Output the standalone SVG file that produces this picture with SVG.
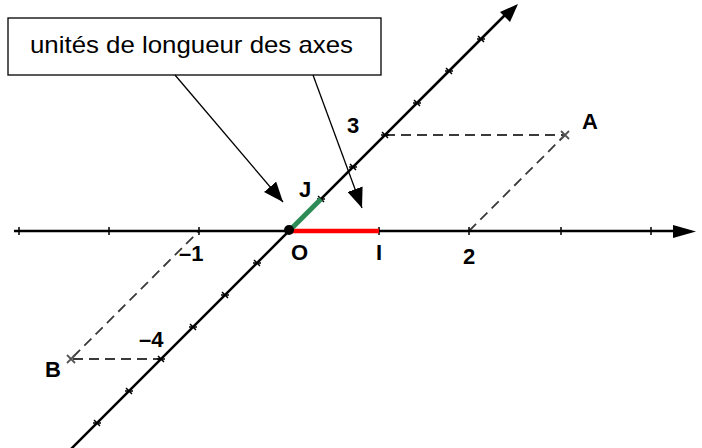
<svg xmlns="http://www.w3.org/2000/svg" width="702" height="448" viewBox="0 0 702 448">
<style>
.lbl{font-family:"Liberation Sans",Arial,sans-serif;font-weight:bold;font-size:22px;fill:#000}
.box{font-family:"Liberation Sans",Arial,sans-serif;font-size:24px;fill:#000}
.axis{stroke:#000;stroke-width:2.5;fill:none}
.tick{stroke:#000;stroke-width:1.5;fill:none}
.dash{stroke:#3a3a3a;stroke-width:1.8;stroke-dasharray:10,6;fill:none}
.cross{stroke:#555;stroke-width:1.8;fill:none}
.call{stroke:#000;stroke-width:1.3;fill:none}
</style>
<defs>
<marker id="callarr" viewBox="0 0 10 10" refX="10" refY="5" markerWidth="20" markerHeight="16" markerUnits="userSpaceOnUse" orient="auto" preserveAspectRatio="none">
<path d="M0,0 L10,5 L0,10 Z" fill="#000"/>
</marker>
</defs>

<g id="dashed">
<path class="dash" d="M385,135 H565"/>
<path class="dash" d="M469,231 L565,135"/>
<path class="dash" d="M73,359 H161"/>
<path class="dash" d="M73,357 L199,231"/>
</g>

<g id="axes">
<line class="axis" x1="14" y1="231" x2="676" y2="231"/>
<path d="M673,225 L696,231.5 L673,238 Z" fill="#000"/>
<line class="axis" x1="62" y1="458" x2="505" y2="15"/>
<path d="M500,12 L518,4 L510,22 Z" fill="#000"/>
<g id="xticks">
<path class="tick" d="M19,227 V235 M109,227 V235 M199,227 V235 M379,227 V235 M469,227 V235 M561,227 V235 M651,227 V235"/>
</g>
<g id="yticks">
<path class="tick" d="M317,199 h8 M349,167 h8 M381,135 h8 M413,103 h8 M445,71 h8 M477,39 h8 M253,263 h8 M221,295 h8 M189,327 h8 M157,359 h8 M125,391 h8 M93,423 h8"/>
<path class="tick" d="M318,196 l6,6 M350,164 l6,6 M382,132 l6,6 M414,100 l6,6 M446,68 l6,6 M478,36 l6,6 M254,260 l6,6 M222,292 l6,6 M190,324 l6,6 M158,356 l6,6 M126,388 l6,6 M94,420 l6,6"/>
</g>
</g>

<g id="units">
<line x1="289" y1="231" x2="379" y2="231" stroke="#ff0000" stroke-width="4.5"/>
<line x1="289" y1="231" x2="321" y2="199" stroke="#2e8b57" stroke-width="5"/>
<circle cx="289" cy="230" r="5" fill="#000"/>
</g>

<g id="pointA">
<path class="cross" d="M561,131 l8,8 M569,131 l-8,8"/>
<text class="lbl" x="582" y="129">A</text>
</g>
<g id="pointB">
<path class="cross" d="M67,355 l8,8 M75,355 l-8,8"/>
<text class="lbl" x="45" y="377">B</text>
</g>

<g id="labels">
<text class="lbl" x="347" y="133">3</text>
<text class="lbl" x="139" y="347">–4</text>
<text class="lbl" x="179" y="261">–1</text>
<text class="lbl" x="291" y="260">O</text>
<text class="lbl" x="376" y="260">I</text>
<text class="lbl" x="463" y="264">2</text>
<text class="lbl" x="299" y="197">J</text>
</g>

<g id="callout">
<rect x="8" y="18" width="373" height="57" fill="#fff" stroke="#000" stroke-width="1.3"/>
<text class="box" x="30" y="53" textLength="323" lengthAdjust="spacingAndGlyphs">unités de longueur des axes</text>
</g>

<g id="connectors">
<line class="call" x1="175" y1="75" x2="283" y2="202" marker-end="url(#callarr)"/>
<line class="call" x1="313" y1="75" x2="362" y2="208" marker-end="url(#callarr)"/>
</g>
</svg>
